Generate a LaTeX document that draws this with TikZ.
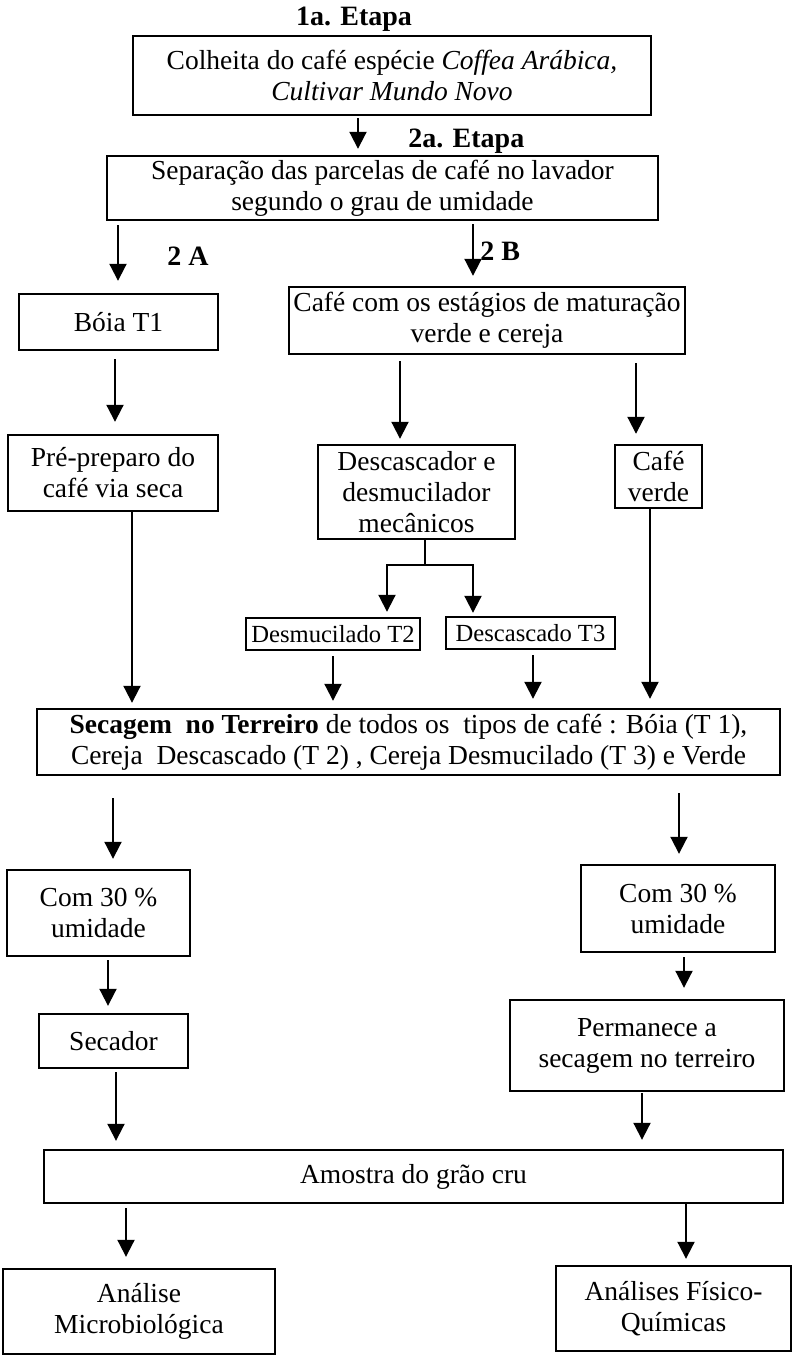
\documentclass[tikz,border=0pt]{standalone}
\usepackage{fontspec}
\setmainfont{Liberation Serif}
\usetikzlibrary{arrows.meta}
\begin{document}
\begin{tikzpicture}[x=0.5pt,y=-0.5pt,
  box/.style={draw, line width=1.2pt, inner sep=0pt, align=center, font=\fontsize{13.75}{15.5}\selectfont},
  smallbox/.style={box, font=\fontsize{12.3}{14}\selectfont},
  sz/.style 2 args={minimum width=#1pt, minimum height=#2pt},
  lbl/.style={font=\fontsize{14}{16}\selectfont\bfseries, inner sep=0pt},
  arr/.style={line width=1pt, -{Triangle[width=8.5pt,length=8.5pt]}},
  ln/.style={line width=1pt}]
\useasboundingbox (0,0) rectangle (793,1355);
\fill[white] (0,0) rectangle (793,1355);

% titles and labels
\node[lbl, anchor=base] (t1) at (354,25) {1a. Etapa};
\node[lbl, anchor=base west] (t2) at (408,147) {2a. Etapa};
\node[lbl, anchor=base west] (l2a) at (167,265) {2 A};
\node[lbl, anchor=base west] (l2b) at (480,260) {2 B};

% boxes
\node[box, sz={259}{39.5}] (b1) at (392,75.5) {Colheita do café espécie \textit{Coffea Arábica,}\\\textit{Cultivar Mundo Novo}};
\node[box, sz={275.5}{32}] (b2) at (382.5,188) {Separação das parcelas de café no lavador\\segundo o grau de umidade};
\node[box, sz={99.5}{28}] (boia) at (118.5,322) {Bóia T1};
\node[box, sz={198}{33.5}] (cafe) at (487,320.5) {Café com os estágios de maturação\\verde e cereja};
\node[box, sz={105}{38}] (pre) at (113,473) {Pré-preparo do\\café via seca};
\node[box, sz={98.5}{47}] (desc) at (416.5,492) {Descascador e\\desmucilador\\mecânicos};
\node[box, sz={43.5}{31.5}] (verde) at (658.5,476.5) {Café\\verde};
\node[smallbox, sz={87}{16}] (t2b) at (333,634) {Desmucilado T2};
\node[smallbox, sz={84.5}{16}] (t3b) at (530.5,633) {Descascado T3};
\node[box, sz={371.5}{33}] (sec) at (408.5,742) {\textbf{Secagem\ \ no Terreiro} de todos os\ \ tipos de café : Bóia (T 1),\\Cereja\ \ Descascado (T 2) , Cereja Desmucilado (T 3) e Verde};
\node[box, sz={91.5}{43}] (com1) at (98.5,913) {Com 30 \%\\umidade};
\node[box, sz={97}{43.5}] (com2) at (678,908.5) {Com 30 \%\\umidade};
\node[box, sz={74.5}{27}] (secador) at (113.5,1041) {Secador};
\node[box, sz={137}{45.5}] (perm) at (647,1045.5) {Permanece a\\secagem no terreiro};
\node[box, sz={369.5}{26.5}] (amostra) at (413.5,1176.5) {Amostra do grão cru};
\node[box, sz={136}{42.5}] (analise) at (139,1311.5) {Análise\\Microbiológica};
\node[box, sz={117.5}{42.5}] (fisico) at (673.5,1308.5) {Análises Físico-\\Químicas};

% x positions of connectors
\coordinate (xa1) at (358,0);
\coordinate (xa2) at (118,0);
\coordinate (xb2) at (473,0);
\coordinate (xa3) at (115,0);
\coordinate (xa4) at (400,0);
\coordinate (xa5) at (636,0);
\coordinate (xa6) at (132,0);
\coordinate (xa7) at (333,0);
\coordinate (xa8) at (533,0);
\coordinate (xa9) at (650,0);
\coordinate (xa10) at (113,0);
\coordinate (xa11) at (679,0);
\coordinate (xa12) at (108,0);
\coordinate (xa13) at (684,0);
\coordinate (xa14) at (116,0);
\coordinate (xa15) at (642,0);
\coordinate (xa16) at (126,0);
\coordinate (xa17) at (686,0);
\coordinate (br) at (425,565);
\coordinate (brl) at (387,565);
\coordinate (brr) at (473,565);

% connectors
\draw[arr, shorten <=1pt, shorten >=3pt] (b1.south -| xa1) -- (b2.north -| xa1);
\draw[arr, shorten <=2pt, shorten >=6pt] (b2.south -| xa2) -- (boia.north -| xa2);
\draw[arr, shorten <=1.5pt, shorten >=5pt] (b2.south -| xb2) -- (cafe.north -| xb2);
\draw[arr, shorten <=4pt, shorten >=6pt] (boia.south -| xa3) -- (pre.north -| xa3);
\draw[arr, shorten <=3pt, shorten >=2.5pt] (cafe.south -| xa4) -- (desc.north -| xa4);
\draw[arr, shorten <=4pt, shorten >=5pt] (cafe.south -| xa5) -- (verde.north -| xa5);
\draw[arr, shorten >=2.5pt] (desc.south -| br) -- (br) -| (t2b.north -| brl);
\draw[arr, shorten >=1.5pt] (br) -| (t3b.north -| brr);
\draw[arr, shorten >=2.5pt] (pre.south -| xa6) -- (sec.north -| xa6);
\draw[arr, shorten <=2.5pt, shorten >=3.5pt] (t2b.south -| xa7) -- (sec.north -| xa7);
\draw[arr, shorten <=2.5pt, shorten >=4.5pt] (t3b.south -| xa8) -- (sec.north -| xa8);
\draw[arr, shorten >=4.5pt] (verde.south -| xa9) -- (sec.north -| xa9);
\draw[arr, shorten <=11pt, shorten >=5pt] (sec.south -| xa10) -- (com1.north -| xa10);
\draw[arr, shorten <=8.5pt, shorten >=5pt] (sec.south -| xa11) -- (com2.north -| xa11);
\draw[arr, shorten <=1.5pt, shorten >=3.5pt] (com1.south -| xa12) -- (secador.north -| xa12);
\draw[arr, shorten <=2pt, shorten >=5.5pt] (com2.south -| xa13) -- (perm.north -| xa13);
\draw[arr, shorten <=1.5pt, shorten >=4pt] (secador.south -| xa14) -- (amostra.north -| xa14);
\draw[arr, shorten <=0.5pt, shorten >=4.5pt] (perm.south -| xa15) -- (amostra.north -| xa15);
\draw[arr, shorten <=2pt, shorten >=5.5pt] (amostra.south -| xa16) -- (analise.north -| xa16);
\draw[arr, shorten >=3pt] (amostra.south -| xa17) -- (fisico.north -| xa17);
\end{tikzpicture}
\end{document}
